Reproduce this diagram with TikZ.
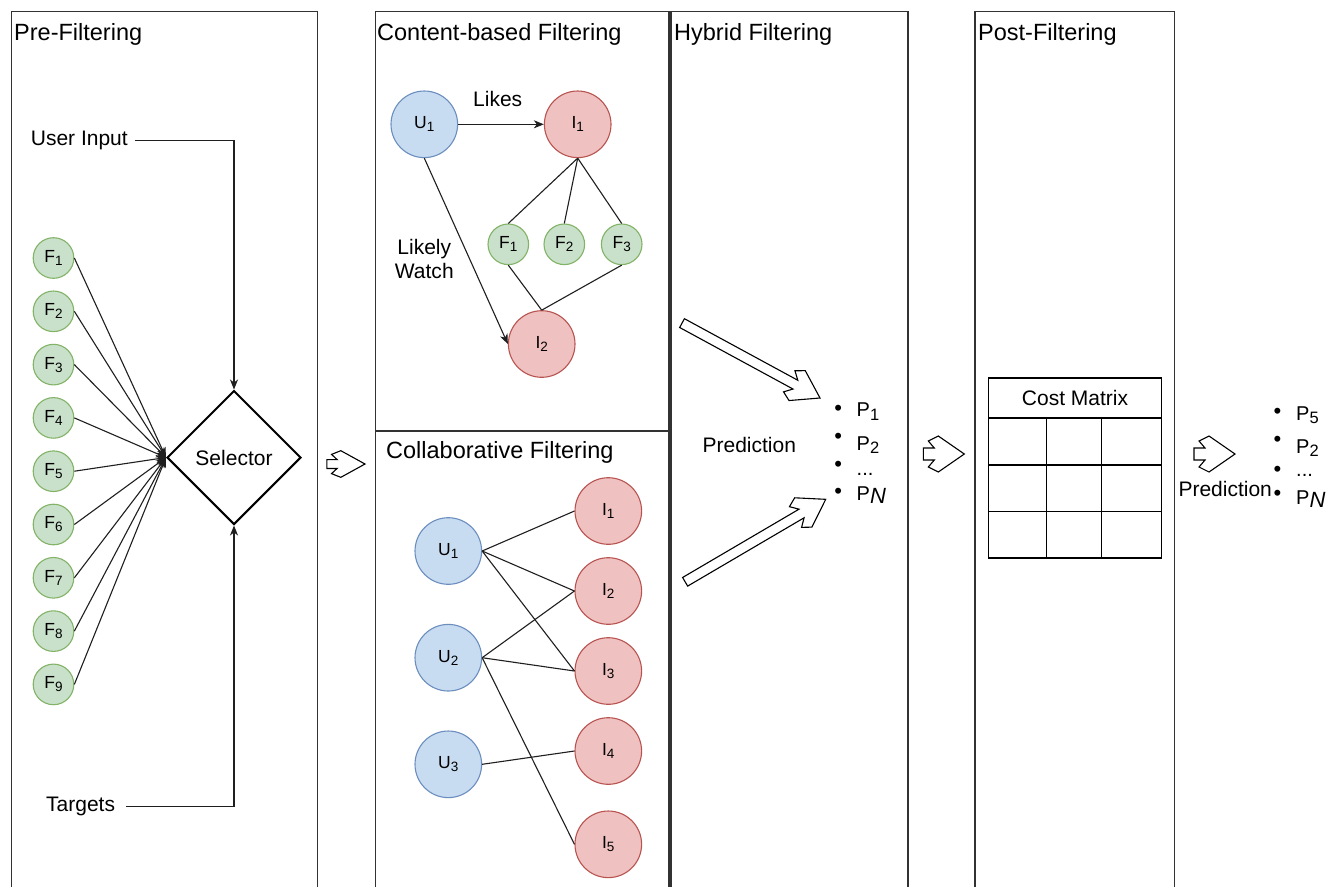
\documentclass[tikz,border=0pt]{standalone}
\usepackage{fontspec}
\setmainfont{Liberation Sans}
\usetikzlibrary{arrows.meta,shapes.geometric}
\definecolor{bluef}{RGB}{200,220,241}
\definecolor{blued}{RGB}{108,142,191}
\definecolor{redf}{RGB}{240,193,193}
\definecolor{redd}{RGB}{184,84,80}
\definecolor{greenf}{RGB}{201,224,203}
\definecolor{greend}{RGB}{130,179,102}
\definecolor{panel}{RGB}{50,50,50}
\newcommand{\csub}[1]{\raisebox{-3pt}{\fontsize{13.5}{13.5}\selectfont #1}}
\newcommand{\psub}[1]{\raisebox{-3.5pt}{\fontsize{16.5}{16.5}\selectfont #1}}
\newcommand{\nsub}{\raisebox{-3.5pt}{\fontsize{22}{22}\selectfont\itshape N}}
\tikzset{
  chevron/.pic={\path[blockarrow] (-41,-6) -- (-30,-6) -- (-36,-13) -- (-26,-18) -- (0,0) -- (-26,18) -- (-36,13) -- (-30,6) -- (-41,6) -- cycle;},
  bigarrow/.pic={\path[blockarrow] (-#1,-5) -- (-28,-5) -- (-35,-12) -- (-26,-17) -- (0,0) -- (-26,17) -- (-35,12) -- (-28,5) -- (-#1,5) -- cycle;}
}
\begin{document}
\begin{tikzpicture}[x=1pt,y=-1pt,
  panelline/.style={draw=panel,line width=1.4pt},
  title/.style={anchor=base west,inner sep=0pt,font=\fontsize{23.5}{28}\selectfont},
  lbl/.style={inner sep=0pt,font=\fontsize{21}{24.3}\selectfont},
  blt/.style={anchor=base west,inner sep=0pt,font=\fontsize{20}{24}\selectfont},
  bul/.style={anchor=center,inner sep=0pt,font=\fontsize{22}{24}\selectfont},
  ucirc/.style={circle,draw=blued,fill=bluef,line width=1.1pt,minimum size=66.6pt,inner sep=0pt,font=\fontsize{17.5}{20}\selectfont},
  icirc/.style={circle,draw=redd,fill=redf,line width=1.1pt,minimum size=66.6pt,inner sep=0pt,font=\fontsize{17.5}{20}\selectfont},
  fcirc/.style={circle,draw=greend,fill=greenf,line width=1.1pt,minimum size=40.6pt,inner sep=0pt,font=\fontsize{17.5}{20}\selectfont},
  conn/.style={draw=black!88,line width=1.1pt},
  arr/.style={conn,-{Stealth[length=10pt,width=8pt,inset=3pt]}},
  blockarrow/.style={draw=black,line width=1.1pt,fill=white,line join=miter}
]
\useasboundingbox (0,0) rectangle (1329,887);
\fill[white] (0,0) rectangle (1329,887);

% panels
\draw[panelline] (11.5,887) -- (11.5,11.5) -- (317.5,11.5) -- (317.5,887);
\draw[panelline] (375.5,887) -- (375.5,11.5) -- (669,11.5) -- (669,887);
\draw[panelline] (375.5,431) -- (669,431);
\draw[panelline] (671,887) -- (671,11.5) -- (908,11.5) -- (908,887);
\draw[panelline] (975,887) -- (975,11.5) -- (1174.5,11.5) -- (1174.5,887);

\node[title] (t1) at (14,40) {Pre-Filtering};
\node[title] (t2) at (377,40) {Content-based Filtering};
\node[title] (t3) at (674,40) {Hybrid Filtering};
\node[title] (t4) at (978,40) {Post-Filtering};
\node[title] (t5) at (386,458) {Collaborative Filtering};

% pre-filtering
\node[diamond,draw=black,line width=2pt,minimum width=134pt,minimum height=134pt,aspect=1,inner sep=0pt,font=\fontsize{21}{24}\selectfont] (sel) at (234,457.5) {Selector};
\node[lbl,anchor=base west,text height=15pt,text depth=4.4pt] (ui) at (30.7,145.7) {User Input};
\node[lbl,anchor=base west,text height=15pt,text depth=4.4pt] (tg) at (46,811.7) {Targets};
\draw[arr] ([xshift=7pt]ui.east) -| (sel.north);
\draw[arr] ([xshift=11pt]tg.east) -| (sel.south);
\foreach \i in {1,...,9}{
  \node[fcirc] (f\i) at (53.5,{258+(\i-1)*53.3}) {F\csub{\i}};
  \draw[arr] (f\i.east) -- (sel.west);
}

% content-based
\node[ucirc] (cu1) at (424.3,124.3) {U\csub{1}};
\node[icirc] (ci1) at (577.7,124.3) {I\csub{1}};
\node[icirc] (ci2) at (541.7,344) {I\csub{2}};
\node[fcirc] (cf1) at (508.3,244.3) {F\csub{1}};
\node[fcirc] (cf2) at (564.3,244.3) {F\csub{2}};
\node[fcirc] (cf3) at (621.7,244.3) {F\csub{3}};
\node[lbl] (likes) at (497.7,99.3) {Likes};
\node[lbl,align=center] (lw) at (424.3,259) {Likely\\Watch};
\draw[arr] (cu1.east) -- (ci1.west);
\draw[arr] (cu1.south) -- (ci2.west);
\draw[conn] (ci1.south) -- (cf1.north);
\draw[conn] (ci1.south) -- (cf2.north);
\draw[conn] (ci1.south) -- (cf3.north);
\draw[conn] (cf1.south) -- (ci2.north);
\draw[conn] (cf3.south) -- (ci2.north);

% collaborative
\node[ucirc] (u1) at (448.3,551) {U\csub{1}};
\node[ucirc] (u2) at (448.3,657.7) {U\csub{2}};
\node[ucirc] (u3) at (448.3,764.3) {U\csub{3}};
\node[icirc] (i1) at (608.3,511) {I\csub{1}};
\node[icirc] (i2) at (608.3,591) {I\csub{2}};
\node[icirc] (i3) at (608.3,671) {I\csub{3}};
\node[icirc] (i4) at (608.3,751) {I\csub{4}};
\node[icirc] (i5) at (608.3,844.3) {I\csub{5}};
\foreach \a/\b in {u1/i1,u1/i2,u1/i3,u2/i2,u2/i3,u2/i5,u3/i4}
  \draw[conn] (\a.east) -- (\b.west);

% hybrid
\pic[rotate=-28.5] at (820,398) {bigarrow=157};
\pic[rotate=30.4] at (825.7,499.3) {bigarrow=163};
\node[lbl] (pred1) at (749.3,445) {Prediction};
\node[bul] (hb1) at (838.3,410) {\textbullet};
\node[bul] (hb2) at (838.3,438.3) {\textbullet};
\node[bul] (hb3) at (838.3,466.7) {\textbullet};
\node[bul] (hb4) at (838.3,493.3) {\textbullet};
\node[blt] (hp1) at (856.5,416.7) {P\psub{1}};
\node[blt] (hp2) at (856.5,450) {P\psub{2}};
\node[blt] (hp3) at (856.5,475) {...};
\node[blt] (hp4) at (856.5,500) {P\nsub};

% post-filtering
\draw[black,line width=1.1pt] (988.3,378) rectangle (1161.5,558);
\draw[black,line width=1.1pt] (988.3,418) -- (1161.5,418) (988.3,465) -- (1161.5,465) (988.3,511.5) -- (1161.5,511.5)
  (1046.7,418) -- (1046.7,558) (1101.7,418) -- (1101.7,558);
\node[lbl] (cm) at (1075,398) {Cost Matrix};
\node[lbl,anchor=base west] (pred2) at (1178.3,496.7) {Prediction};
\node[bul] (rb1) at (1277.5,413.3) {\textbullet};
\node[bul] (rb2) at (1277.5,441.7) {\textbullet};
\node[bul] (rb3) at (1277.5,471.7) {\textbullet};
\node[bul] (rb4) at (1277.5,495) {\textbullet};
\node[blt] (rp1) at (1296,420) {P\psub{5}};
\node[blt] (rp2) at (1296,453.3) {P\psub{2}};
\node[blt] (rp3) at (1296,476.7) {...};
\node[blt] (rp4) at (1296,504) {P\nsub};

% small block arrows
\pic[xscale=0.93,yscale=0.74] at (365,464) {chevron};
\pic at (964.3,454) {chevron};
\pic at (1235,454) {chevron};
\end{tikzpicture}
\end{document}
